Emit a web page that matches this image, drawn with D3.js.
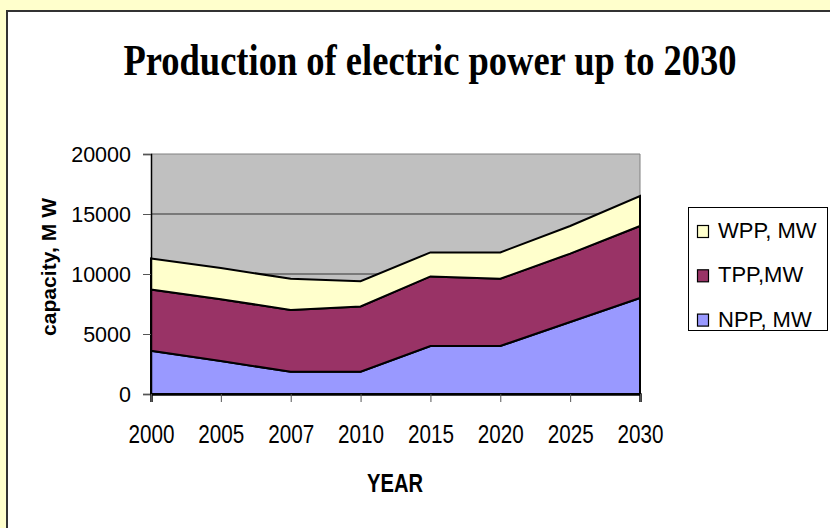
<!DOCTYPE html>
<html><head><meta charset="utf-8">
<script src="https://cdn.jsdelivr.net/npm/d3@7"></script>
<style>
html,body{margin:0;padding:0;background:#FFFFCC;}
svg{display:block;}
</style></head>
<body><svg id="c" width="830" height="528"></svg>
<script>
const years = ["2000","2005","2007","2010","2015","2020","2025","2030"];
const nppValues = [3600, 2750, 1850, 1850, 4000, 4000, 6000, 8000];
const tppValues = [5100, 5150, 5150, 5450, 5800, 5600, 5700, 6000];
const wppValues = [2600, 2600, 2600, 2100, 2000, 2200, 2300, 2500];
const seriesNames = ["NPP, MW", "TPP,MW", "WPP, MW"];
const seriesColors = ["#9999FF", "#993366", "#FFFFCC"];
const yTicks = [0, 5000, 10000, 15000, 20000];

const SANS = "'Liberation Sans',Arial,sans-serif";
const SERIF = "'Liberation Serif','Times New Roman',serif";

const svg = d3.select("#c");
svg.append("rect").attr("x",0).attr("y",0).attr("width",830).attr("height",528).attr("fill","#FFFFCC");
svg.append("rect").attr("x",7).attr("y",11).attr("width",840).attr("height",540)
  .attr("fill","#FFFFFF").attr("stroke","#333").attr("stroke-width",2);

const L=151, R=640, T=154, B=394;
const x = d3.scalePoint().domain(years).range([L,R]);
const y = d3.scaleLinear().domain([0,20000]).range([B,T]);

svg.append("rect").attr("x",L).attr("y",T).attr("width",R-L).attr("height",B-T).attr("fill","#C0C0C0");
svg.append("g").selectAll("line").data(yTicks.filter(d=>d>0)).join("line")
  .attr("x1",L).attr("x2",R).attr("y1",d=>y(d)).attr("y2",d=>y(d))
  .attr("stroke",d=>d===20000?"#808080":"#333").attr("stroke-width",1);
svg.append("line").attr("x1",R).attr("x2",R).attr("y1",T).attr("y2",B).attr("stroke","#808080");

const table = years.map((yr,i)=>({year:yr, npp:nppValues[i], tpp:tppValues[i], wpp:wppValues[i]}));
const layers = d3.stack().keys(["npp","tpp","wpp"])(table);
const area = d3.area().x(d=>x(d.data.year)).y0(d=>y(d[0])).y1(d=>y(d[1]));
svg.append("g").selectAll("path").data(layers).join("path")
  .attr("d",area).attr("fill",(d,i)=>seriesColors[i])
  .attr("stroke","#000").attr("stroke-width",2).attr("stroke-linejoin","miter");

const yAxis = d3.axisLeft(y).tickValues(yTicks).tickSize(8).tickPadding(12).tickFormat(d3.format("d"));
const gy = svg.append("g").attr("transform",`translate(${L},0)`).call(yAxis);
gy.select(".domain").attr("stroke","#000").attr("stroke-width",1.5);
gy.selectAll(".tick line").attr("stroke","#555");
gy.selectAll("text").attr("font-size",21.5).attr("fill","#000")
  .style("font-family",SANS).attr("dy","0.36em");

const xAxis = d3.axisBottom(x).tickSize(8).tickPadding(22);
const gx = svg.append("g").attr("transform",`translate(0,${B})`).call(xAxis);
gx.select(".domain").attr("stroke","#000").attr("stroke-width",2.5);
gx.selectAll(".tick line").attr("stroke","#555");
gx.selectAll("text").attr("font-size",26).attr("fill","#000")
  .style("font-family",SANS)
  .attr("dy",null).attr("y",49)
  .attr("textLength",46).attr("lengthAdjust","spacingAndGlyphs");

svg.append("text").attr("transform","translate(430,75) scale(0.83,1)").attr("text-anchor","middle")
  .style("font-family",SERIF).attr("font-weight","bold")
  .attr("font-size",44)
  .text("Production of electric power up to 2030");
svg.append("text").attr("x",395).attr("y",491.5).attr("text-anchor","middle")
  .style("font-family",SANS).attr("font-weight","bold").attr("font-size",25)
  .attr("textLength",56).attr("lengthAdjust","spacingAndGlyphs").text("YEAR");
svg.append("text").attr("transform","translate(56,266.5) rotate(-90)").attr("text-anchor","middle")
  .style("font-family",SANS).attr("font-weight","bold").attr("font-size",21)
  .attr("letter-spacing",1)
  .attr("textLength",139).attr("lengthAdjust","spacing").text("capacity,  M W");

svg.append("rect").attr("x",688.5).attr("y",207.5).attr("width",139).attr("height",123)
  .attr("fill","#FFFFFF").attr("stroke","#000").attr("stroke-width",1);
const legendOrder = [2,1,0];
const lg = svg.append("g").selectAll("g").data(legendOrder).join("g")
  .attr("transform",(d,i)=>`translate(0,${238 + i*44.3})`);
lg.append("rect").attr("x",697.5).attr("y",-12.5).attr("width",11).attr("height",12)
  .attr("fill",d=>seriesColors[d]).attr("stroke","#000").attr("stroke-width",1.2);
lg.append("text").attr("x",718).attr("y",0).attr("font-size",22).attr("fill","#000")
  .style("font-family",SANS).text(d=>seriesNames[d]);
</script></body></html>
